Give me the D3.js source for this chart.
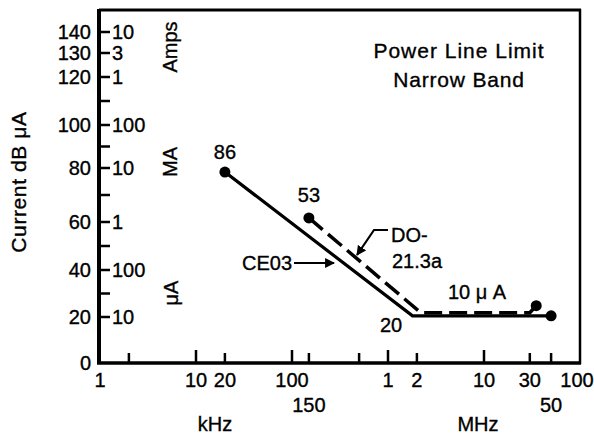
<!DOCTYPE html>
<html><head><meta charset="utf-8">
<script src="https://cdn.jsdelivr.net/npm/d3@7"></script>
<style>
html,body{margin:0;padding:0;background:#fff;}
svg text{font-family:"Liberation Sans",Arial,Helvetica,sans-serif;fill:#000;stroke:#000;stroke-width:0.35px;}
</style></head>
<body><svg id="c" width="594" height="438"></svg>
<script>
// ---- data ----
const yTicksDb = [0, 20, 40, 60, 80, 100, 120, 130, 140];
const yMinorDb = [30, 50, 70, 90, 110];
const yUnitLabels = ["", "10", "100", "1", "10", "100", "1", "3", "10"];
const xTickFreqs = [2e3, 1e4, 2e4, 1e5, 1.5e5, 5e5, 1e6, 2e6, 1e7, 3e7, 5e7];
const xLabelFreqs = [1e3, 1e4, 2e4, 1e5, 1e6, 2e6, 1e7, 3e7, 1e8];
const xLabelText = ["1", "10", "20", "100", "1", "2", "10", "30", "100"];
const xLabel2Freqs = [1.5e5, 5e7];
const xLabel2Text = ["150", "50"];
const ce03Freq = [2e4, 1.8e6, 5e7];
const ce03Db = [78.5, 20.5, 20.5];
const doFreq = [1.5e5, 2.2e6, 3e7, 3.5e7];
const doDb = [61.5, 21.8, 21.8, 24.8];

// ---- scales ----
const x = d3.scaleLog().domain([1e3, 1e8]).range([100, 580]);
const y = d3.scaleLinear()
  .domain([0, 20, 40, 60, 80, 100, 120, 130, 140])
  .range([363, 317, 270, 222, 168, 125, 77, 53, 32]);

const svg = d3.select("#c");
const FS = 20;

// frame
svg.append("line").attr("x1",99).attr("x2",581).attr("y1",10).attr("y2",10).attr("stroke","#000").attr("stroke-width",3);
svg.append("line").attr("x1",580).attr("x2",580).attr("y1",9).attr("y2",364).attr("stroke","#000").attr("stroke-width",2.5);
svg.append("line").attr("x1",99).attr("x2",99).attr("y1",9).attr("y2",364).attr("stroke","#000").attr("stroke-width",4);
svg.append("line").attr("x1",97).attr("x2",581).attr("y1",363).attr("y2",363).attr("stroke","#000").attr("stroke-width",3.5);

// y ticks
const yAll = yTicksDb.concat(yMinorDb).filter(d => d > 0);
svg.selectAll(".yt").data(yAll).enter().append("line")
  .attr("x1",99).attr("x2",110).attr("y1",d=>y(d)).attr("y2",d=>y(d))
  .attr("stroke","#000").attr("stroke-width",2.5);
svg.selectAll(".yl").data(yTicksDb).enter().append("text")
  .attr("x",91).attr("y",d=>y(d)).attr("dy","0.36em").attr("text-anchor","end")
  .attr("font-size",FS).text(d=>d);
svg.selectAll(".yu").data(yTicksDb.slice(1)).enter().append("text")
  .attr("x",112).attr("y",d=>y(d)).attr("dy","0.36em").attr("text-anchor","start")
  .attr("font-size",FS).text((d,i)=>yUnitLabels[i+1]);

// unit labels rotated
function rot(txt, cx, cy, fs){
  svg.append("text").attr("transform",`translate(${cx},${cy}) rotate(-90)`)
    .attr("text-anchor","middle").attr("dy","0.36em").attr("font-size",fs).text(txt);
}
rot("Amps", 170, 47, FS);
rot("MA", 170, 162, FS);
rot("μA", 171, 293, FS);
svg.append("text").attr("transform","translate(18,182) rotate(-90)")
  .attr("text-anchor","middle").attr("dy","0.36em").attr("font-size",21)
  .attr("letter-spacing","0.6").text("Current dB μA");

// x ticks
svg.selectAll(".xt").data(xTickFreqs).enter().append("line")
  .attr("x1",d=>x(d)).attr("x2",d=>x(d)).attr("y1",363)
  .attr("y2",d=>{const l=Math.log10(d); return Math.abs(l-Math.round(l))<1e-9 ? 350 : 353;})
  .attr("stroke","#000").attr("stroke-width",2.5);
svg.selectAll(".xl").data(xLabelFreqs).enter().append("text")
  .attr("x",(d,i)=> i===xLabelFreqs.length-1 ? x(d)-3 : x(d)).attr("y",387).attr("text-anchor","middle")
  .attr("font-size",FS).text((d,i)=>xLabelText[i]);
svg.selectAll(".xl2").data(xLabel2Freqs).enter().append("text")
  .attr("x",d=>x(d)).attr("y",412).attr("text-anchor","middle")
  .attr("font-size",FS).text((d,i)=>xLabel2Text[i]);
svg.append("text").attr("x",215).attr("y",431).attr("text-anchor","middle").attr("font-size",FS).text("kHz");
svg.append("text").attr("x",478).attr("y",431).attr("text-anchor","middle").attr("font-size",FS).text("MHz");

// title
svg.append("text").attr("x",459).attr("y",58).attr("text-anchor","middle").attr("font-size",21)
  .attr("letter-spacing","1").text("Power Line Limit");
svg.append("text").attr("x",459).attr("y",87).attr("text-anchor","middle").attr("font-size",21)
  .attr("letter-spacing","0.8").text("Narrow Band");

// lines
const line = d3.line().x(d=>x(d[0])).y(d=>y(d[1]));
const ce = ce03Freq.map((f,i)=>[f, ce03Db[i]]);
const dd = doFreq.map((f,i)=>[f, doDb[i]]);
svg.append("path").attr("d",line(ce)).attr("fill","none").attr("stroke","#000").attr("stroke-width",3.2);
svg.append("path").attr("d",line(dd)).attr("fill","none").attr("stroke","#000").attr("stroke-width",3.5)
  .attr("stroke-dasharray","18,7");
svg.append("circle").attr("cx",x(ce[0][0])).attr("cy",y(ce[0][1])).attr("r",5.5);
svg.append("circle").attr("cx",x(ce[2][0])).attr("cy",y(ce[2][1])).attr("r",5.5);
svg.append("circle").attr("cx",x(dd[0][0])).attr("cy",y(dd[0][1])).attr("r",5.5);
svg.append("circle").attr("cx",x(dd[3][0])).attr("cy",y(dd[3][1])).attr("r",5.5);

// annotations
svg.append("text").attr("x",x(ce[0][0])).attr("y",159).attr("text-anchor","middle").attr("font-size",FS).text("86");
svg.append("text").attr("x",x(dd[0][0])).attr("y",202).attr("text-anchor","middle").attr("font-size",FS).text("53");
svg.append("text").attr("x",391).attr("y",332).attr("text-anchor","middle").attr("font-size",FS).text("20");
svg.append("text").attr("x",477).attr("y",299).attr("text-anchor","middle").attr("font-size",FS).text("10 μ A");
svg.append("text").attr("x",391).attr("y",242).attr("font-size",FS).text("DO-");
svg.append("text").attr("x",392).attr("y",268).attr("font-size",FS).text("21.3a");
svg.append("text").attr("x",242).attr("y",270).attr("font-size",FS).text("CE03");

// arrows
const defs = svg.append("defs");
defs.append("marker").attr("id","ah").attr("viewBox","0 0 10 10").attr("refX",9).attr("refY",5)
  .attr("markerWidth",4.5).attr("markerHeight",4.5).attr("orient","auto").attr("markerUnits","strokeWidth")
  .append("path").attr("d","M0,0 L10,5 L0,10 Z").attr("fill","#000");
svg.append("path").attr("d","M388,230 L374,230 L357,255").attr("fill","none").attr("stroke","#000")
  .attr("stroke-width",2.2).attr("marker-end","url(#ah)");
svg.append("path").attr("d","M294,263 L334,263").attr("fill","none").attr("stroke","#000")
  .attr("stroke-width",2.2).attr("marker-end","url(#ah)");
</script></body></html>
